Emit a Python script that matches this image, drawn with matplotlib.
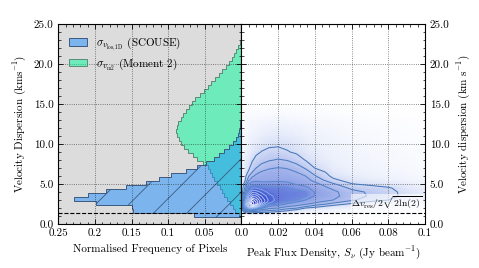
import numpy as np
import matplotlib
matplotlib.use('Agg')
import matplotlib.pyplot as plt
from matplotlib.colors import LinearSegmentedColormap, PowerNorm
from matplotlib.ticker import MultipleLocator, FixedLocator, FixedFormatter, FormatStrFormatter

plt.rcParams['font.family'] = 'serif'
plt.rcParams['font.serif'] = ['cmr10']
plt.rcParams['mathtext.fontset'] = 'cm'
plt.rcParams['axes.formatter.use_mathtext'] = True
plt.rcParams['font.size'] = 8
plt.rcParams['hatch.linewidth'] = 0.6

# ---------------- data ----------------
vel_bin_edges = [0.9, 1.4, 1.9, 2.4, 2.9, 3.4, 3.9, 4.4, 4.9, 5.4, 5.9, 6.4, 6.9, 7.4, 7.9,
                 8.4, 8.9, 9.4, 9.9, 10.4, 10.9, 11.4, 11.9, 12.4, 12.9, 13.4, 13.9, 14.4,
                 14.9, 15.4, 15.9, 16.4, 16.9, 17.4, 17.9, 18.4, 18.9, 19.4, 19.9, 20.4,
                 20.9, 21.4, 21.9, 22.4, 22.9, 23.4]
scouse_freq = [0.064, 0.148, 0.150, 0.199, 0.229, 0.209, 0.185, 0.157, 0.130, 0.113,
               0.096, 0.076, 0.060, 0.048, 0.038, 0.031, 0.024, 0.017, 0.011, 0.007,
               0.004, 0.003, 0.002, 0.002, 0.001, 0.001, 0, 0, 0, 0, 0, 0, 0, 0, 0, 0,
               0, 0, 0, 0, 0, 0, 0, 0, 0]
moment2_freq = [0.003, 0.008, 0.012, 0.016, 0.019, 0.023, 0.026, 0.029, 0.033, 0.037,
                0.040, 0.043, 0.046, 0.052, 0.060, 0.066, 0.073, 0.078, 0.082, 0.085,
                0.088, 0.089, 0.088, 0.086, 0.082, 0.079, 0.076, 0.072, 0.068, 0.063,
                0.057, 0.051, 0.046, 0.041, 0.036, 0.031, 0.026, 0.021, 0.017, 0.013,
                0.010, 0.007, 0.004, 0.002, 0.001]

res_limit = 1.38

# pixel density grid (peak flux vs velocity dispersion)
dens_x = [0.0, 0.002, 0.004, 0.006, 0.008, 0.011, 0.015, 0.02, 0.025, 0.03, 0.035,
          0.04, 0.05, 0.06, 0.07, 0.08, 0.09, 0.1]
dens_y = [0.0, 1.0, 1.25, 1.5, 1.75, 2.0, 2.25, 2.5, 2.75, 3.0, 3.5, 4.0, 4.5, 5.0,
          5.5, 6.0, 6.5, 7.0, 8.0, 9.0, 10.0, 11.0, 13.0, 15.0]
dens_cols = [
    [0]*24,
    [0, 0, 0, 1.5, 3.5, 5.5, 6.2, 6.5, 6.1, 5.4, 4.4, 3.0, 2.2, 1.6, 0.85, 0.65, 0.55, 0.5, 0.4, 0.3, 0.2, 0.15, 0.05, 0],
    [0, 0, 0.2, 1.8, 3.9, 7.0, 10.0, 10.5, 10.1, 9.3, 7.7, 6.0, 5.2, 4.0, 2.8, 1.95, 1.15, 0.8, 0.55, 0.4, 0.3, 0.2, 0.08, 0],
    [0, 0, 0.2, 1.5, 3.5, 7.0, 12.0, 13.8, 13.4, 12.5, 9.6, 7.8, 6.0, 4.5, 3.6, 2.85, 2.0, 1.6, 0.9, 0.55, 0.4, 0.3, 0.1, 0],
    [0, 0, 0.2, 1.4, 3.3, 6.0, 9.6, 12.0, 12.0, 11.3, 9.6, 7.6, 6.0, 4.5, 3.75, 3.2, 2.7, 2.0, 1.35, 0.75, 0.5, 0.35, 0.12, 0],
    [0, 0, 0.2, 1.2, 2.8, 4.2, 6.3, 7.8, 9.2, 9.0, 8.0, 6.75, 5.6, 4.5, 3.6, 3.45, 3.1, 2.35, 1.7, 1.05, 0.6, 0.4, 0.15, 0],
    [0, 0, 0.2, 1.1, 2.4, 3.3, 4.1, 5.5, 6.4, 6.8, 6.4, 5.7, 5.3, 4.5, 3.6, 3.5, 3.3, 2.9, 1.9, 1.3, 0.75, 0.5, 0.18, 0],
    [0, 0, 0.15, 0.8, 2.0, 3.0, 3.6, 4.8, 5.3, 5.5, 5.5, 5.4, 5.25, 4.5, 3.75, 3.5, 3.35, 3.05, 2.1, 1.3, 0.85, 0.55, 0.2, 0],
    [0, 0, 0.1, 0.5, 1.3, 2.5, 3.2, 3.8, 4.8, 5.3, 5.4, 5.35, 5.1, 4.3, 3.7, 3.45, 3.25, 2.95, 1.95, 1.08, 0.75, 0.5, 0.18, 0],
    [0, 0, 0.05, 0.3, 0.8, 2.1, 2.9, 3.4, 4.0, 5.0, 5.3, 5.25, 4.7, 3.9, 3.55, 3.3, 3.0, 2.5, 1.55, 0.85, 0.6, 0.42, 0.15, 0],
    [0, 0, 0.03, 0.2, 0.5, 1.0, 2.4, 3.1, 3.5, 4.0, 5.1, 5.05, 4.2, 3.7, 3.35, 3.0, 2.4, 1.9, 0.95, 0.6, 0.45, 0.35, 0.12, 0],
    [0, 0, 0.02, 0.15, 0.35, 0.7, 1.6, 2.7, 3.2, 3.55, 3.9, 3.95, 3.7, 3.3, 2.7, 2.1, 1.6, 1.0, 0.6, 0.45, 0.35, 0.3, 0.1, 0],
    [0, 0, 0.01, 0.1, 0.2, 0.4, 0.7, 1.6, 2.4, 3.0, 3.3, 3.25, 2.8, 2.15, 1.2, 0.75, 0.55, 0.45, 0.35, 0.3, 0.25, 0.2, 0.08, 0],
    [0, 0, 0, 0.05, 0.12, 0.25, 0.45, 0.8, 1.45, 2.2, 2.45, 2.35, 1.8, 1.05, 0.6, 0.45, 0.35, 0.3, 0.25, 0.2, 0.15, 0.12, 0.05, 0],
    [0, 0, 0, 0.03, 0.08, 0.15, 0.3, 0.5, 0.85, 1.4, 1.9, 1.85, 1.4, 0.8, 0.45, 0.35, 0.28, 0.22, 0.18, 0.14, 0.1, 0.08, 0.03, 0],
    [0, 0, 0, 0.02, 0.05, 0.1, 0.2, 0.35, 0.6, 1.0, 1.35, 1.3, 1.1, 0.6, 0.35, 0.25, 0.2, 0.16, 0.12, 0.1, 0.07, 0.05, 0.02, 0],
    [0, 0, 0, 0.01, 0.03, 0.06, 0.12, 0.2, 0.35, 0.55, 0.7, 0.7, 0.6, 0.4, 0.25, 0.18, 0.14, 0.11, 0.08, 0.06, 0.05, 0.03, 0.01, 0],
    [0, 0, 0, 0, 0.02, 0.03, 0.06, 0.1, 0.2, 0.3, 0.4, 0.4, 0.35, 0.25, 0.15, 0.1, 0.08, 0.06, 0.05, 0.04, 0.03, 0.02, 0.01, 0],
]
contour_levels = [1, 2, 3, 4, 5, 6, 7, 8, 9, 10, 11, 12, 13]

left_xticks = [0.25, 0.2, 0.15, 0.1, 0.05, 0.0]
left_xticklabels = ['0.25', '0.2', '0.15', '0.1', '0.05', '']
right_xticks = [0.0, 0.02, 0.04, 0.06, 0.08, 0.1]
right_xticklabels = ['0.0', '0.02', '0.04', '0.06', '0.08', '0.1']
yticks = [0, 5, 10, 15, 20, 25]

# ---------------- figure ----------------
fig = plt.figure(figsize=(4.79, 2.68), dpi=100)
axL = fig.add_axes([0.1217, 0.1642, 0.3821, 0.7451])
axR = fig.add_axes([0.5038, 0.1642, 0.3835, 0.7451])

axL.set_facecolor('#dcdcdc')
h_m2 = axL.stairs(moment2_freq, vel_bin_edges, orientation='horizontal', fill=True,
                  facecolor=(0.0, 0.98, 0.604, 0.5), edgecolor='#5a8a78', linewidth=0.7,
                  label=r'$\sigma_{v_{\rm m2}}$ (Moment 2)', zorder=1)
h_sc = axL.stairs(scouse_freq, vel_bin_edges, orientation='horizontal', fill=True,
                  facecolor=(0.118, 0.565, 1.0, 0.5), edgecolor='#3c5a80', linewidth=0.7,
                  hatch='/', label=r'$\sigma_{v_{\rm los,1D}}$ (SCOUSE)', zorder=1.1)
axL.axhline(res_limit, color='k', ls='--', lw=0.8, zorder=3)
axL.set_xlim(0.25, 0.0)
axL.set_ylim(0, 25)
axL.xaxis.set_major_locator(FixedLocator(left_xticks))
axL.xaxis.set_major_formatter(FixedFormatter(left_xticklabels))
axL.xaxis.set_minor_locator(MultipleLocator(0.01))
axL.yaxis.set_major_locator(FixedLocator(yticks))
axL.yaxis.set_major_formatter(FormatStrFormatter('%.1f'))
axL.yaxis.set_minor_locator(MultipleLocator(1))
axL.tick_params(which='both', direction='in', top=True, right=True, bottom=True, left=True)
axL.tick_params(which='major', length=3.5, width=0.6)
axL.tick_params(which='minor', length=1.8, width=0.5)
axL.grid(True, which='major', ls=':', color='k', lw=0.6, alpha=0.6)
axL.set_xlabel('Normalised Frequency of Pixels')
axL.set_ylabel(r'Velocity Dispersion (kms$^{-1}$)')
axL.legend(handles=[h_sc, h_m2], loc='upper left', frameon=False, fontsize=8,
           handlelength=1.6, handleheight=0.7, borderaxespad=0.6, labelspacing=0.3)

# right panel
cmap = LinearSegmentedColormap.from_list('dens', [
    (0.0, '#ffffff'), (0.1, '#eef2fc'), (0.2, '#d3dcf6'), (0.4, '#a5b5ec'),
    (0.5, '#8599e5'), (0.56, '#6a80de'), (0.62, '#4c62d6'), (0.78, '#3040cc'),
    (1.0, '#1212c0')])
line_cmap = LinearSegmentedColormap.from_list('lines', [
    (0.0, '#4676b8'), (0.35, '#5f8fd2'), (0.45, '#8fb0ea'), (1.0, '#eef4ff')])
D = np.array(dens_cols).T
axR.set_facecolor('white')
axR.pcolormesh(dens_x, dens_y, D, shading='gouraud', cmap=cmap,
               norm=PowerNorm(gamma=0.6, vmin=0, vmax=14), zorder=0.5)
axR.contour(dens_x, dens_y, D, levels=contour_levels, cmap=line_cmap,
            linewidths=0.75, zorder=2)
axR.axhline(res_limit, color='k', ls='--', lw=0.8, zorder=3)
axR.text(0.0985, res_limit + 0.25, r'$\Delta v_{\rm res}/2\sqrt{2\ln(2)}$', ha='right',
         va='bottom', fontsize=7, zorder=4,
         bbox=dict(facecolor='white', edgecolor='none', alpha=0.6, pad=0.5))
axR.set_xlim(0, 0.1)
axR.set_ylim(0, 25)
axR.xaxis.set_major_locator(FixedLocator(right_xticks))
axR.xaxis.set_major_formatter(FixedFormatter(right_xticklabels))
axR.xaxis.set_minor_locator(MultipleLocator(0.004))
axR.yaxis.set_major_locator(FixedLocator(yticks))
axR.yaxis.set_major_formatter(FormatStrFormatter('%.1f'))
axR.yaxis.set_minor_locator(MultipleLocator(1))
axR.tick_params(which='both', direction='in', top=True, right=True, bottom=True, left=True,
                labelleft=False, labelright=True)
axR.tick_params(which='major', length=3.5, width=0.6)
axR.tick_params(which='minor', length=1.8, width=0.5)
axR.grid(True, which='major', ls=':', color='k', lw=0.6, alpha=0.6)
axR.yaxis.set_label_position('right')
axR.set_xlabel(r'Peak Flux Density, $S_\nu$ (Jy beam$^{-1}$)')
axR.set_ylabel(r'Velocity dispersion (km s$^{-1}$)')

fig.savefig('out.png', dpi=100)
